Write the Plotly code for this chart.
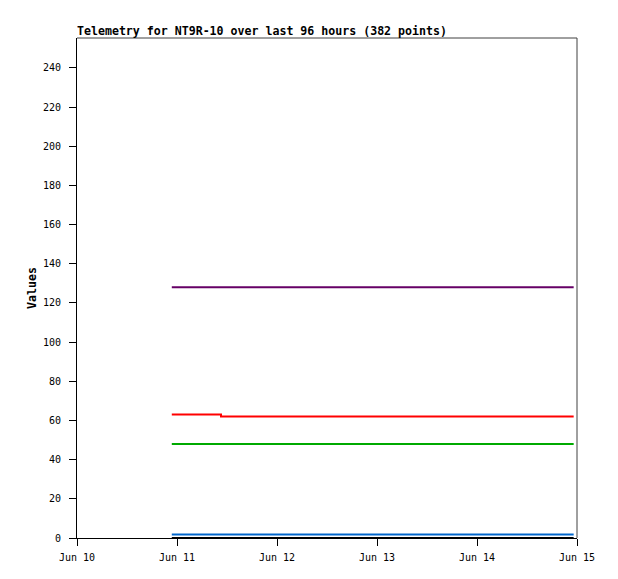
import plotly.graph_objects as go

# Data
times = ["2024-06-10 22:45", "2024-06-11 10:34", "2024-06-14 23:12"]
series_names = ["Purple", "Red", "Green", "Blue", "Black"]
purple_vals = [128, 128, 128]
red_vals = [63, 62, 62]
green_vals = [48, 48, 48]
blue_vals = [1.8, 1.8, 1.8]
black_vals = [0, 0, 0]
x_ticks = ["2024-06-10", "2024-06-11", "2024-06-12", "2024-06-13", "2024-06-14", "2024-06-15"]
y_ticks = [0, 20, 40, 60, 80, 100, 120, 140, 160, 180, 200, 220, 240]
title_text = "Telemetry for NT9R-10 over last 96 hours (382 points)"

colors = ["#660066", "#ff0000", "#00aa00", "#0066cc", "#000000"]
values = [purple_vals, red_vals, green_vals, blue_vals, black_vals]

fig = go.Figure()
for name, vals, col in zip(series_names, values, colors):
    fig.add_trace(go.Scatter(x=times, y=vals, mode="lines", name=name,
                             line=dict(color=col, width=2, shape="hv"),
                             cliponaxis=False))

mono = "DejaVu Sans Mono"
fig.update_layout(
    width=610, height=571,
    margin=dict(l=69, r=41, t=30, b=41),
    paper_bgcolor="white", plot_bgcolor="white",
    showlegend=False,
    font=dict(family=mono, size=10, color="black"),
    xaxis=dict(
        type="date", range=["2024-06-10", "2024-06-15"],
        tickvals=x_ticks, tickformat="%b %d",
        showgrid=False, zeroline=False,
        showline=True, linecolor="black", linewidth=1,
        ticks="outside", ticklen=7, tickcolor="black", tickwidth=1,
        ticklabelstandoff=3,
        tickfont=dict(family=mono, size=10, color="black"),
    ),
    yaxis=dict(
        range=[0, 255.3], tickvals=y_ticks,
        showgrid=False, zeroline=False,
        showline=True, linecolor="black", linewidth=1,
        ticks="outside", ticklen=7, tickcolor="black", tickwidth=1,
        ticklabelstandoff=6,
        tickfont=dict(family=mono, size=10, color="black"),
    ),
    shapes=[
        dict(type="line", xref="paper", yref="paper", x0=0, x1=1, y0=1, y1=1,
             line=dict(color="#404040", width=1)),
        dict(type="line", xref="paper", yref="paper", x0=1, x1=1, y0=0, y1=1,
             line=dict(color="#404040", width=1)),
    ],
    annotations=[
        dict(text="<b>" + title_text + "</b>", xref="paper", yref="paper",
             x=0, y=1, xanchor="left", yanchor="bottom", xshift=-2, yshift=-2,
             showarrow=False,
             font=dict(family=mono, size=11.6, color="black")),
        dict(text="<b>Values</b>", xref="paper", yref="paper",
             x=0, y=0.5, xanchor="center", yanchor="middle", xshift=-45,
             textangle=-90, showarrow=False,
             font=dict(family=mono, size=11.6, color="black")),
    ],
)

fig.write_html("out.html")
